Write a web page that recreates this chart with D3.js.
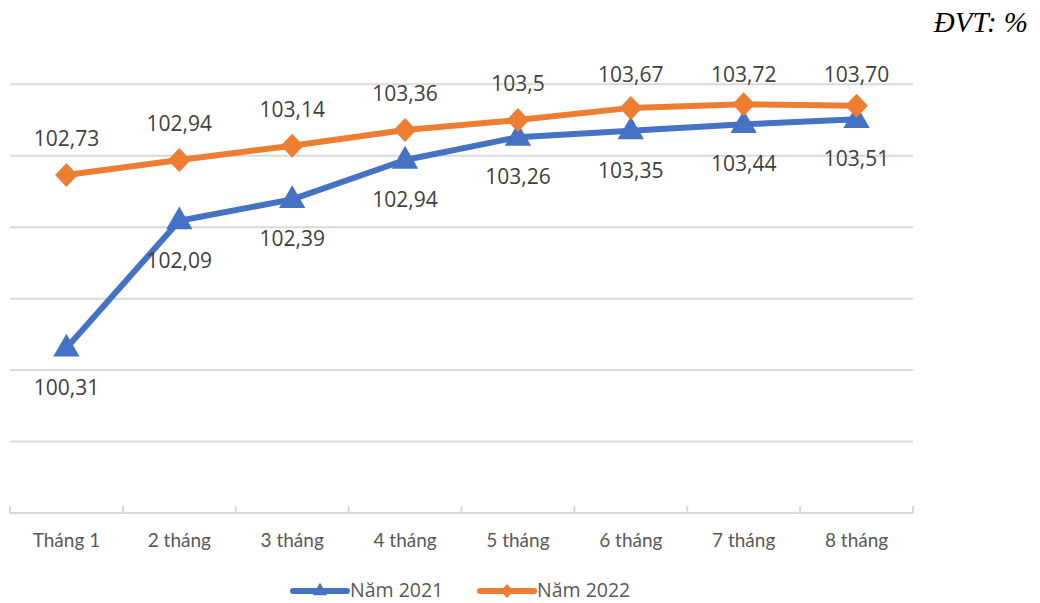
<!DOCTYPE html>
<html><head><meta charset="utf-8">
<script src="https://cdn.jsdelivr.net/npm/d3@7"></script>
<style>body{margin:0;background:#fff;}svg{display:block;}</style>
</head><body>
<svg id="c" width="1040" height="603"></svg>
<script>
const categories = ["Tháng 1","2 tháng","3 tháng","4 tháng","5 tháng","6 tháng","7 tháng","8 tháng"];
const values2021 = [100.31,102.09,102.39,102.94,103.26,103.35,103.44,103.51];
const values2022 = [102.73,102.94,103.14,103.36,103.5,103.67,103.72,103.70];
const labels2021 = ["100,31","102,09","102,39","102,94","103,26","103,35","103,44","103,51"];
const labels2022 = ["102,73","102,94","103,14","103,36","103,5","103,67","103,72","103,70"];
const seriesNames = ["Năm 2021","Năm 2022"];
const yTicks = [98,99,100,101,102,103,104];
const unitText = "ĐVT: %";

const svg = d3.select("#c");
const blue = "#4472C4", orange = "#ED7D31";
const x = d3.scaleBand().domain(categories).range([10,913]);
const y = d3.scaleLinear().domain([98,104]).range([513,84.3]);
const cx = d => x(d) + x.bandwidth()/2;

// gridlines
svg.append("g").selectAll("line").data(yTicks.slice(1)).join("line")
  .attr("x1",10).attr("x2",913).attr("y1",d=>y(d)).attr("y2",d=>y(d))
  .attr("stroke","#D9D9D9").attr("stroke-width",2);

// x axis
svg.append("line").attr("x1",10).attr("x2",913).attr("y1",513).attr("y2",513)
  .attr("stroke","#D9D9D9").attr("stroke-width",2);
const tickPos = categories.map(c=>x(c)).concat([913]);
svg.append("g").selectAll("line").data(tickPos).join("line")
  .attr("x1",d=>d).attr("x2",d=>d).attr("y1",506).attr("y2",513)
  .attr("stroke","#D9D9D9").attr("stroke-width",2);
svg.append("g").selectAll("text").data(categories).join("text")
  .attr("x",d=>cx(d)).attr("y",547).attr("text-anchor","middle")
  .attr("font-family","Lato, 'Liberation Sans Narrow', sans-serif").attr("font-size",19)
  .attr("fill","#595959").text(d=>d);

const line = d3.line().x((d,i)=>cx(categories[i])).y(d=>y(d));
svg.append("path").datum(values2021).attr("d",line).attr("fill","none")
  .attr("stroke",blue).attr("stroke-width",6).attr("stroke-linejoin","round");
svg.append("path").datum(values2022).attr("d",line).attr("fill","none")
  .attr("stroke",orange).attr("stroke-width",6).attr("stroke-linejoin","round");

const tri = d3.symbol().type(d3.symbolTriangle).size(300);
const dia = (s)=>`M0,${-s}L${s*0.95},0L0,${s}L${-s*0.95},0Z`;
svg.append("g").selectAll("path").data(values2021).join("path")
  .attr("transform",(d,i)=>`translate(${cx(categories[i])},${y(d)+1})`)
  .attr("d",tri()).attr("fill",blue);
svg.append("g").selectAll("path").data(values2022).join("path")
  .attr("transform",(d,i)=>`translate(${cx(categories[i])},${y(d)})`)
  .attr("d",dia(12)).attr("fill",orange);

const lblFont = "'Open Sans', 'Segoe UI', sans-serif";
svg.append("g").selectAll("text").data(values2022).join("text")
  .attr("x",(d,i)=>cx(categories[i])).attr("y",d=>Math.max(y(d)-29,82)).attr("text-anchor","middle")
  .attr("font-family",lblFont).attr("font-size",21).attr("fill","#404040")
  .text((d,i)=>labels2022[i]);
svg.append("g").selectAll("text").data(values2021).join("text")
  .attr("x",(d,i)=>cx(categories[i])).attr("y",d=>y(d)+47).attr("text-anchor","middle")
  .attr("font-family",lblFont).attr("font-size",21).attr("fill","#404040")
  .text((d,i)=>labels2021[i]);

// legend
const lg = svg.append("g");
const legItems = [{n:seriesNames[0],c:blue,x0:293,m:"t"},{n:seriesNames[1],c:orange,x0:480,m:"d"}];
legItems.forEach(it=>{
  lg.append("line").attr("x1",it.x0).attr("x2",it.x0+54).attr("y1",591).attr("y2",591)
    .attr("stroke",it.c).attr("stroke-width",6).attr("stroke-linecap","round");
  if(it.m==="t") lg.append("path").attr("transform",`translate(${it.x0+27},591)`)
    .attr("d",d3.symbol().type(d3.symbolTriangle).size(90)()).attr("fill",it.c);
  else lg.append("path").attr("transform",`translate(${it.x0+27},591)`)
    .attr("d",dia(7)).attr("fill",it.c);
  lg.append("text").attr("x",it.x0+57).attr("y",597).attr("font-family",lblFont)
    .attr("font-size",19.5).attr("fill","#595959").text(it.n);
});

svg.append("text").attr("x",1028).attr("y",32).attr("text-anchor","end")
  .attr("font-family","'Liberation Serif','Times New Roman',serif").attr("font-style","italic")
  .attr("font-size",29).attr("fill","#000").text(unitText);
</script>
</body></html>
